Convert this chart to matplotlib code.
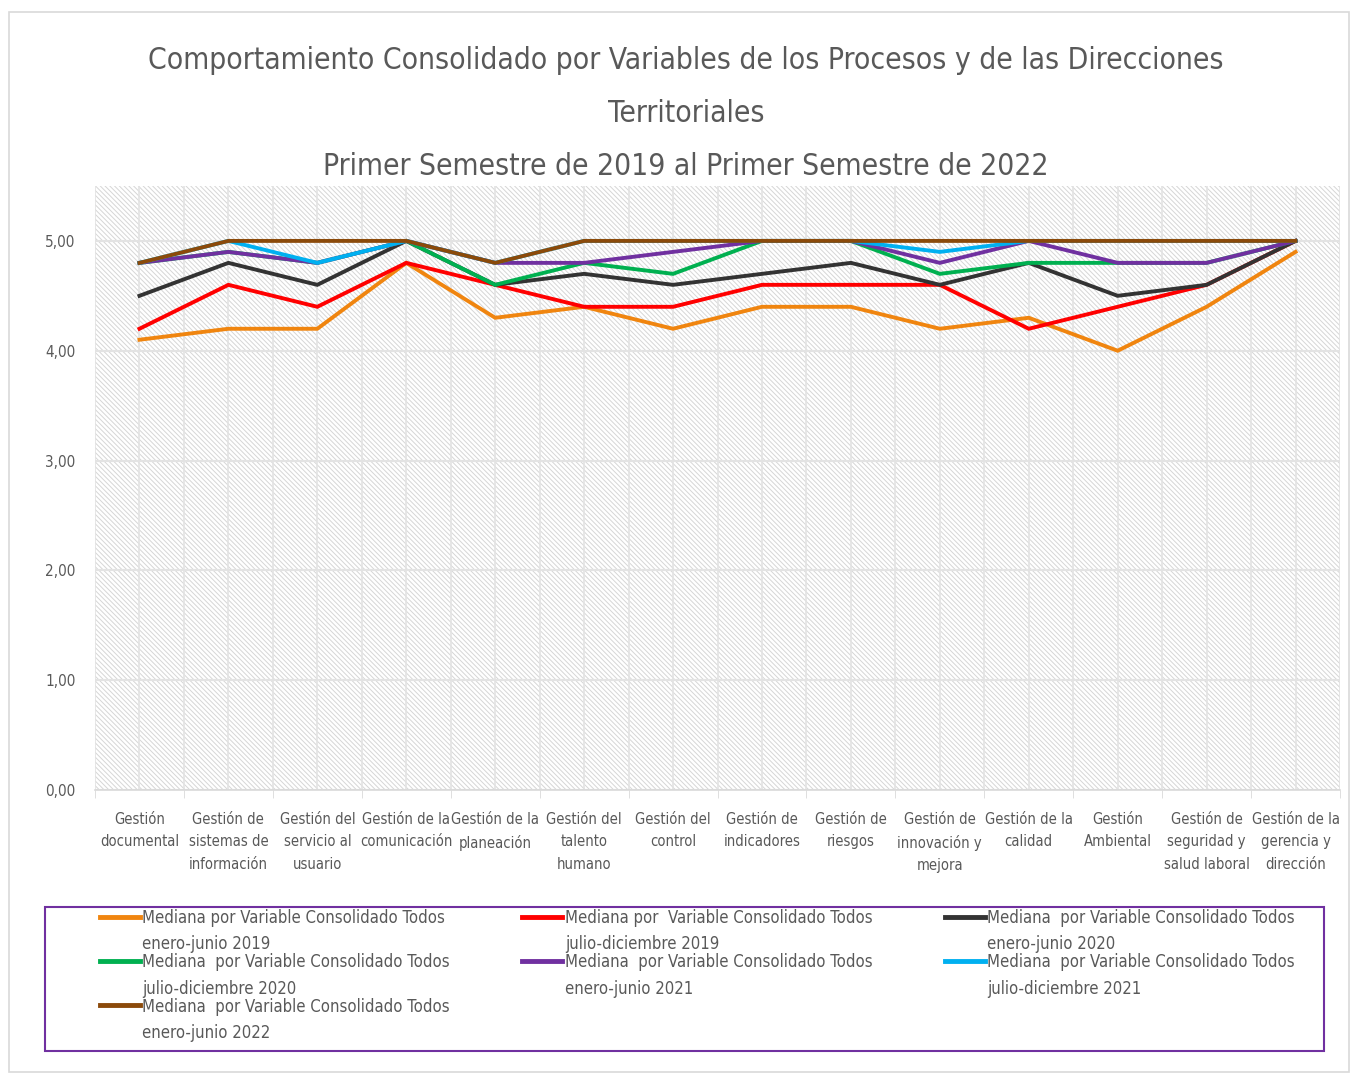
import numpy as np
import matplotlib
matplotlib.use('Agg')
import matplotlib.pyplot as plt
from matplotlib.ticker import FuncFormatter, FixedLocator
from matplotlib.legend_handler import HandlerLine2D

plt.rcParams['font.family'] = ['DejaVu Sans']
plt.rcParams['font.stretch'] = 'condensed'
plt.rcParams['hatch.color'] = '#d6d6d6'
plt.rcParams['hatch.linewidth'] = 0.7

categorias = ['Gestión\ndocumental', 'Gestión de\nsistemas de\ninformación',
              'Gestión del\nservicio al\nusuario', 'Gestión de la\ncomunicación',
              'Gestión de la\nplaneación', 'Gestión del\ntalento\nhumano',
              'Gestión del\ncontrol', 'Gestión de\nindicadores', 'Gestión de\nriesgos',
              'Gestión de\ninnovación y\nmejora', 'Gestión de la\ncalidad',
              'Gestión\nAmbiental', 'Gestión de\nseguridad y\nsalud laboral',
              'Gestión de la\ngerencia y\ndirección']

ene_jun_2019 = [4.1, 4.2, 4.2, 4.8, 4.3, 4.4, 4.2, 4.4, 4.4, 4.2, 4.3, 4.0, 4.4, 4.9]
jul_dic_2019 = [4.2, 4.6, 4.4, 4.8, 4.6, 4.4, 4.4, 4.6, 4.6, 4.6, 4.2, 4.4, 4.6, 5.0]
ene_jun_2020 = [4.5, 4.8, 4.6, 5.0, 4.6, 4.7, 4.6, 4.7, 4.8, 4.6, 4.8, 4.5, 4.6, 5.0]
jul_dic_2020 = [4.8, 4.9, 4.8, 5.0, 4.6, 4.8, 4.7, 5.0, 5.0, 4.7, 4.8, 4.8, 4.8, 5.0]
ene_jun_2021 = [4.8, 4.9, 4.8, 5.0, 4.8, 4.8, 4.9, 5.0, 5.0, 4.8, 5.0, 4.8, 4.8, 5.0]
jul_dic_2021 = [4.8, 5.0, 4.8, 5.0, 4.8, 5.0, 5.0, 5.0, 5.0, 4.9, 5.0, 5.0, 5.0, 5.0]
ene_jun_2022 = [4.8, 5.0, 5.0, 5.0, 4.8, 5.0, 5.0, 5.0, 5.0, 5.0, 5.0, 5.0, 5.0, 5.0]

series = [ene_jun_2019, jul_dic_2019, ene_jun_2020, jul_dic_2020,
          ene_jun_2021, jul_dic_2021, ene_jun_2022]
etiquetas = ['Mediana por Variable Consolidado Todos\nenero-junio 2019',
             'Mediana por  Variable Consolidado Todos\njulio-diciembre 2019',
             'Mediana  por Variable Consolidado Todos\nenero-junio 2020',
             'Mediana  por Variable Consolidado Todos\njulio-diciembre 2020',
             'Mediana  por Variable Consolidado Todos\nenero-junio 2021',
             'Mediana  por Variable Consolidado Todos\njulio-diciembre 2021',
             'Mediana  por Variable Consolidado Todos\nenero-junio 2022']
colores = ['#f0850f', '#ff0000', '#333333', '#00b050', '#7030a0', '#00b0f0', '#8b4a0a']

gris = '#595959'


class LineaArriba(HandlerLine2D):
    # sube la muestra de la leyenda a la primera linea del texto
    def create_artists(self, legend, orig_handle, xdescent, ydescent, width, height,
                       fontsize, trans):
        arts = super().create_artists(legend, orig_handle, xdescent, ydescent, width,
                                      height, fontsize, trans)
        for a in arts:
            a.set_ydata(np.asarray(a.get_ydata()) + fontsize * 0.95)
            a.set_linewidth(3.5)
        return arts


fig = plt.figure(figsize=(13.53, 10.74), dpi=100)
# marco de la figura
fig.patches.append(plt.Rectangle((0.007, 0.002), 0.99, 0.987, transform=fig.transFigure,
                                 fill=False, edgecolor='#d9d9d9', linewidth=1.2))
# marco de la leyenda
fig.patches.append(plt.Rectangle((45/1353, 1 - 1051/1074), (1324-45)/1353, 144/1074,
                                 transform=fig.transFigure, fill=False,
                                 edgecolor='#7030a0', linewidth=1.5))

ax = fig.add_axes([95/1353, 1 - 790/1074, (1340-95)/1353, (790-186)/1074])
x = np.arange(len(categorias))

# fondo rayado
ax.add_patch(plt.Rectangle((-0.5, 0), 14, 5.5, facecolor='white', hatch='\\' * 7,
                           edgecolor='#d6d6d6', linewidth=0, zorder=0))

for v in np.arange(-0.5, 14, 0.5):
    ax.axvline(v, color='#e3e3e3', linewidth=1.2, zorder=1)
for v in range(0, 6):
    ax.axhline(v, color='#e3e3e3', linewidth=1.5, zorder=1)

lineas = []
for s, c, lab in zip(series, colores, etiquetas):
    l, = ax.plot(x, s, color=c, linewidth=2.8, label=lab, zorder=3, solid_joinstyle='miter')
    lineas.append(l)

ax.set_xlim(-0.5, 13.5)
ax.set_ylim(0, 5.5)
ax.set_yticks([0, 1, 2, 3, 4, 5])
ax.yaxis.set_major_formatter(FuncFormatter(lambda v, p: f'{v:.2f}'.replace('.', ',')))
ax.set_xticks(x)
ax.set_xticklabels(categorias, linespacing=1.6)
ax.xaxis.set_minor_locator(FixedLocator(np.arange(-0.5, 14, 1)))
ax.tick_params(axis='x', which='major', length=0, pad=16, labelsize=10.6, labelcolor=gris)
ax.tick_params(axis='x', which='minor', length=6, color='#d9d9d9')
ax.tick_params(axis='y', length=0, labelsize=11, labelcolor=gris, pad=14)
for k in ['top', 'right', 'left']:
    ax.spines[k].set_visible(False)
ax.spines['bottom'].set_color('#d9d9d9')
ax.spines['bottom'].set_linewidth(1.2)

fig.text(0.507, 0.944, 'Comportamiento Consolidado por Variables de los Procesos y de las Direcciones',
         ha='center', va='center', fontsize=21.5, color=gris)
fig.text(0.507, 0.894, 'Territoriales', ha='center', va='center', fontsize=21.5, color=gris)
fig.text(0.507, 0.845, 'Primer Semestre de 2019 al Primer Semestre de 2022',
         ha='center', va='center', fontsize=21.5, color=gris)

# orden por filas como en la referencia
orden = [0, 3, 6, 1, 4, 2, 5]
leg = fig.legend([lineas[i] for i in orden], [etiquetas[i] for i in orden],
                 loc='upper left', bbox_to_anchor=(95/1353, 1 - 1051/1074, (1300-95)/1353, 147/1074),
                 mode='expand', ncol=3, fontsize=12, frameon=False,
                 borderpad=0.3, handlelength=2.4, handletextpad=0.15, labelspacing=0.0,
                 columnspacing=1.0, borderaxespad=0,
                 handler_map={l: LineaArriba() for l in lineas})
for t in leg.get_texts():
    t.set_color(gris)
    t.set_linespacing(1.6)

fig.savefig('out.png', dpi=100)
